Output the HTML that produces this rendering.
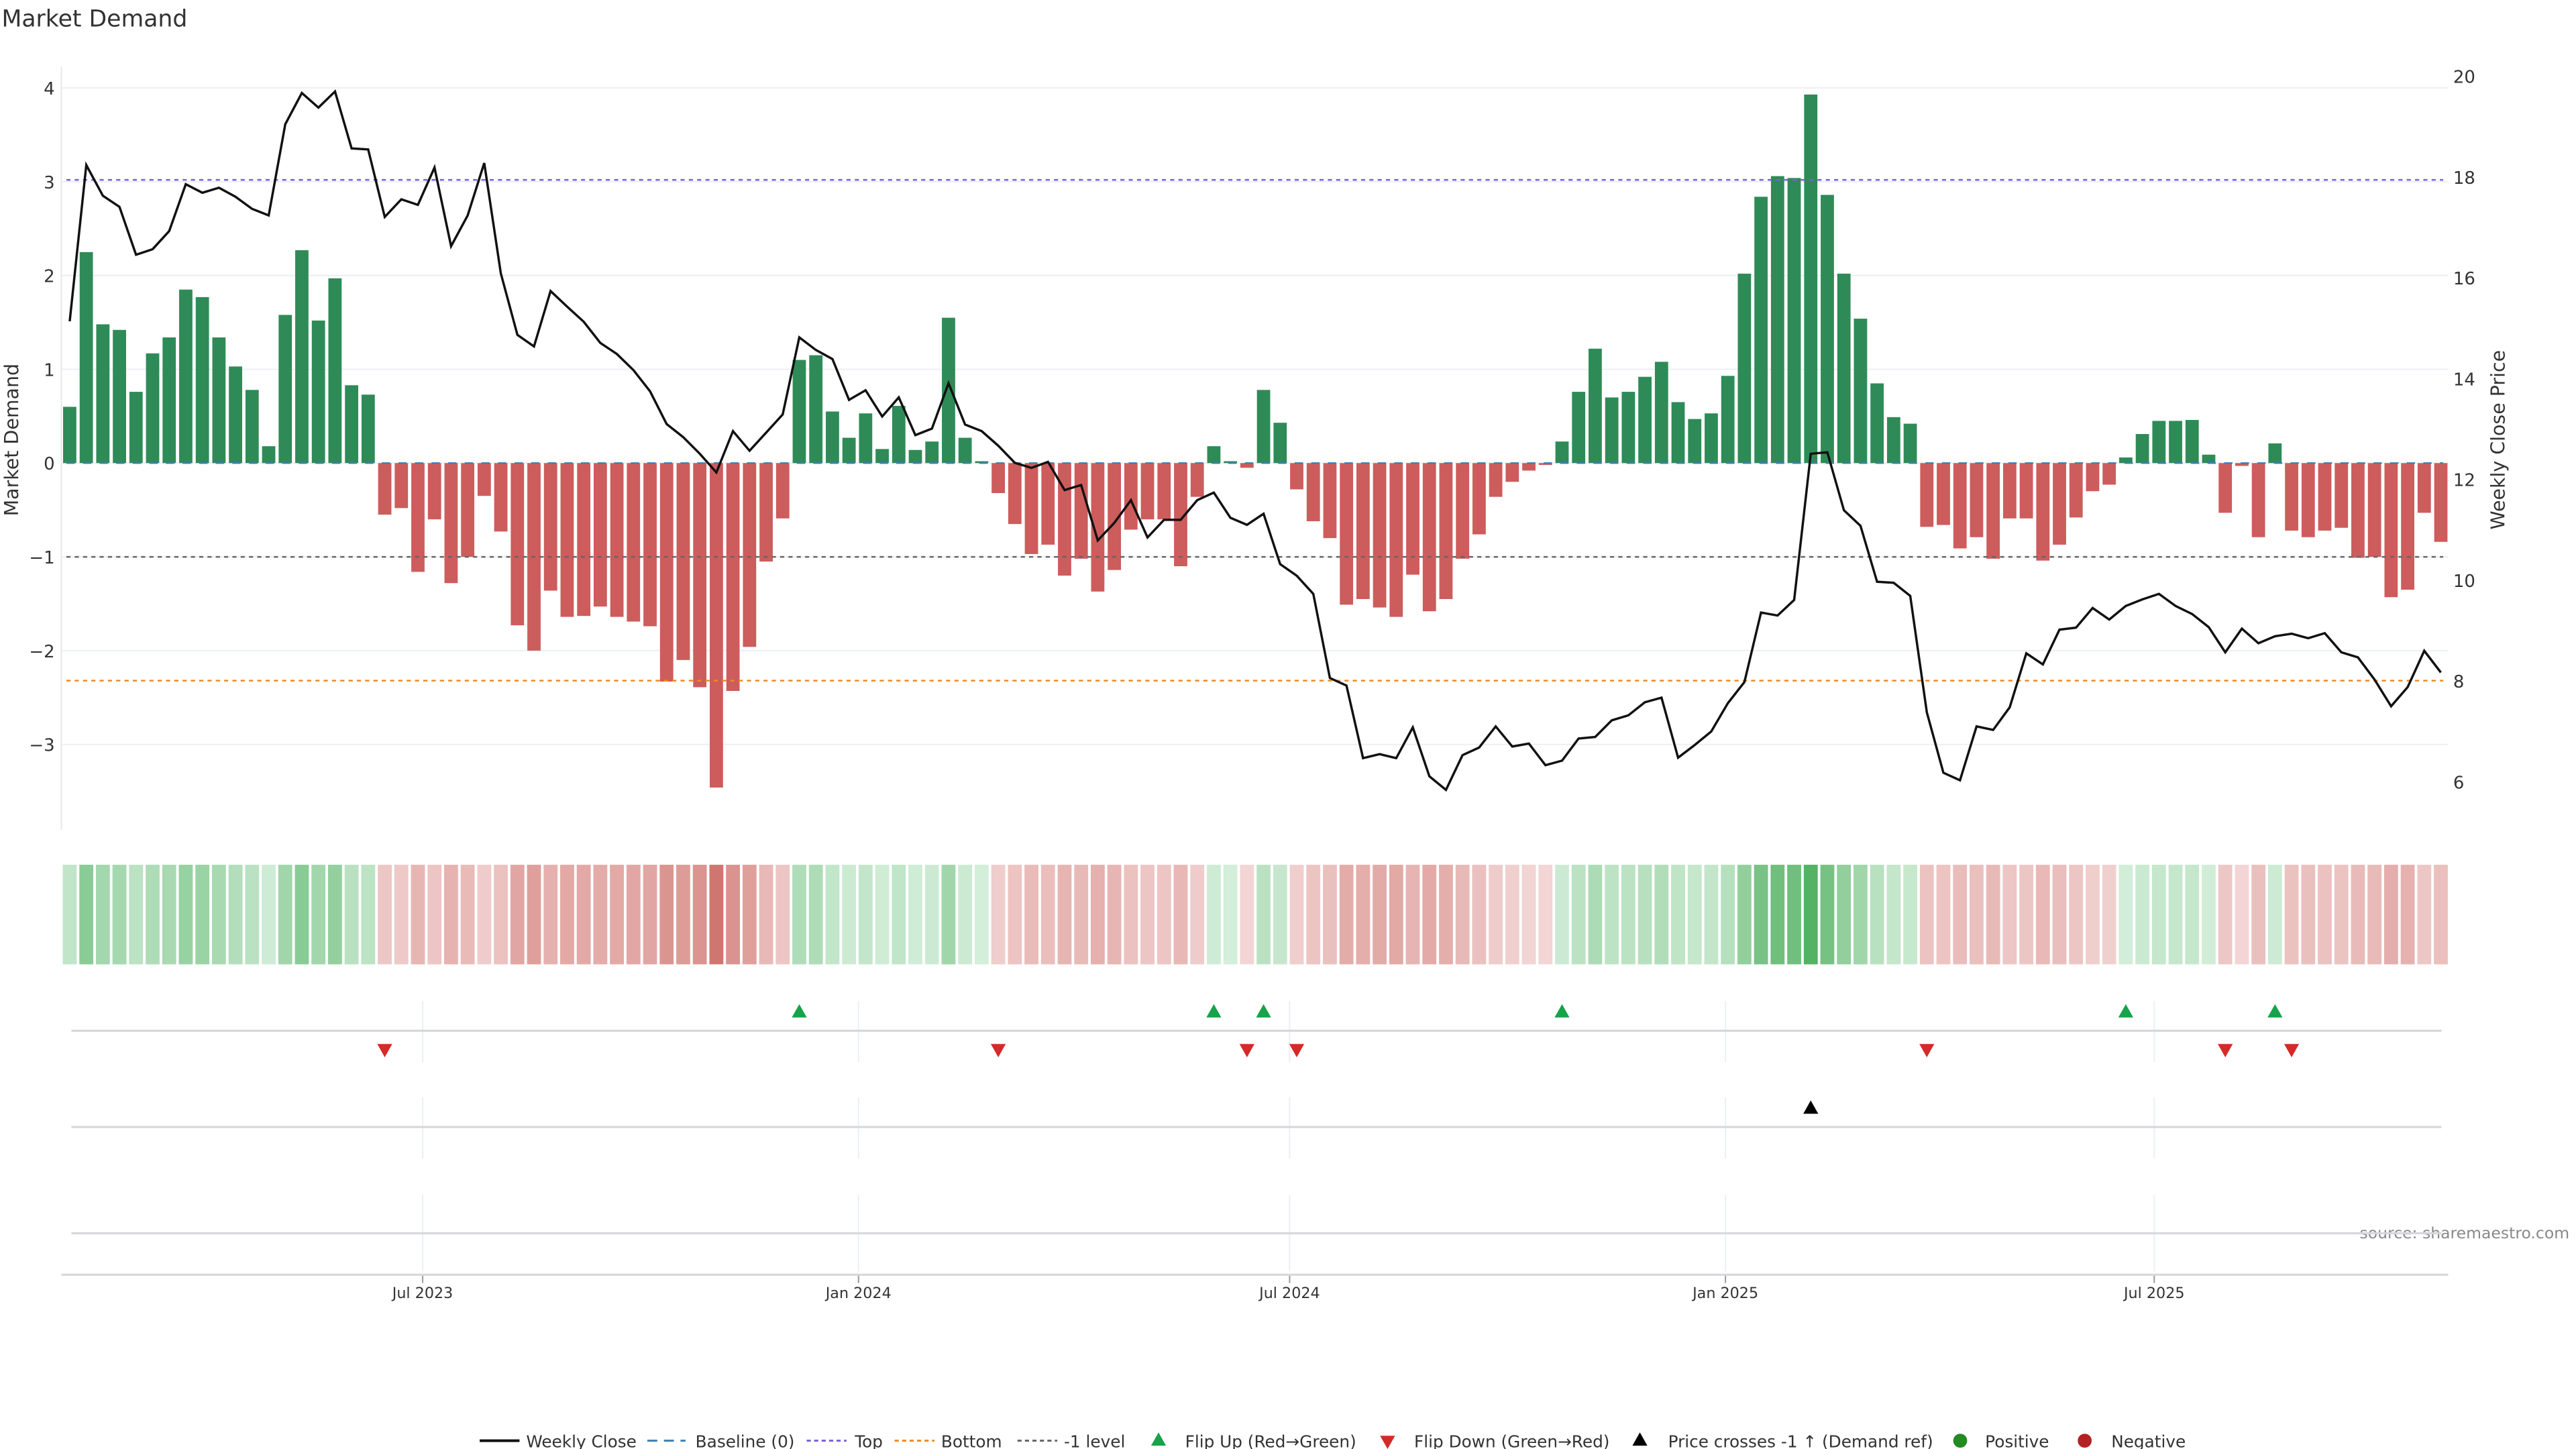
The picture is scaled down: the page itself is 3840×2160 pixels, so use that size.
<!DOCTYPE html>
<html><head><meta charset="utf-8"><style>
html,body{margin:0;padding:0;background:#fff;}
svg{display:block;font-family:"DejaVu Sans","Liberation Sans",sans-serif;}
</style></head><body>
<svg id="chart" width="3840" height="2160" viewBox="0 0 1552 873" preserveAspectRatio="none" xmlns="http://www.w3.org/2000/svg">
<text x="1" y="16" font-size="14" fill="#333">Market Demand</text>
<text transform="translate(11,265) rotate(-90)" text-anchor="middle" font-size="11.5" fill="#333">Market Demand</text>
<text transform="translate(1509,265) rotate(-90)" text-anchor="middle" font-size="11.5" fill="#333">Weekly Close Price</text>
<text x="1548" y="746" text-anchor="end" font-size="9.5" fill="#888">source: sharemaestro.com</text>
<g id="g"></g>
</svg>
<script>
const demand=[0.60,2.25,1.48,1.42,0.76,1.17,1.34,1.85,1.77,1.34,1.03,0.78,0.18,1.58,2.27,1.52,1.97,0.83,0.73,
-0.55,-0.48,-1.16,-0.60,-1.28,-1.00,-0.35,-0.73,-1.73,-2.00,-1.36,-1.64,-1.63,-1.53,-1.64,-1.69,-1.74,-2.33,-2.10,-2.39,-3.46,-2.43,-1.96,-1.05,-0.59,
1.10,1.15,0.55,0.27,0.53,0.15,0.61,0.14,0.23,1.55,0.27,0.02,
-0.32,-0.65,-0.97,-0.87,-1.20,-1.02,-1.37,-1.14,-0.71,-0.60,-0.60,-1.10,-0.36,
0.18,0.02,-0.05,0.78,0.43,
-0.28,-0.62,-0.80,-1.51,-1.45,-1.54,-1.64,-1.19,-1.58,-1.45,-1.02,-0.76,-0.36,-0.20,-0.08,-0.02,
0.23,0.76,1.22,0.70,0.76,0.92,1.08,0.65,0.47,0.53,0.93,2.02,2.84,3.06,3.04,3.93,2.86,2.02,1.54,0.85,0.49,0.42,
-0.68,-0.66,-0.91,-0.79,-1.02,-0.59,-0.59,-1.04,-0.87,-0.58,-0.30,-0.23,
0.06,0.31,0.45,0.45,0.46,0.09,-0.53,-0.03,-0.79,0.21,
-0.72,-0.79,-0.72,-0.69,-1.01,-1.00,-1.43,-1.35,-0.53,-0.84];
const price=[15.14,18.24,17.63,17.41,16.46,16.57,16.93,17.86,17.69,17.79,17.61,17.37,17.24,19.05,19.67,19.38,19.70,18.57,18.55,
17.21,17.56,17.45,18.19,16.63,17.24,18.28,16.09,14.87,14.64,15.74,15.43,15.13,14.71,14.49,14.17,13.75,13.10,12.84,12.51,12.14,12.96,12.57,12.93,13.29,
14.82,14.57,14.39,13.58,13.77,13.25,13.63,12.88,13.01,13.91,13.09,12.96,
12.67,12.33,12.23,12.35,11.79,11.89,10.79,11.14,11.59,10.85,11.20,11.20,11.59,
11.74,11.24,11.10,11.32,10.32,
10.09,9.73,8.06,7.91,6.47,6.55,6.47,7.08,6.11,5.84,6.53,6.68,7.10,6.70,6.76,6.33,
6.42,6.86,6.89,7.22,7.32,7.58,7.67,6.48,6.73,7.00,7.56,7.98,9.36,9.30,9.61,12.51,12.54,11.39,11.08,9.97,9.95,9.69,
7.38,6.18,6.03,7.10,7.03,7.48,8.55,8.33,9.02,9.06,9.45,9.22,
9.49,9.62,9.73,9.49,9.33,9.07,8.57,9.04,8.75,8.89,
8.94,8.85,8.95,8.57,8.47,8.03,7.50,7.88,8.60,8.17];
const leftTicks=[4,3,2,1,0,-1,-2,-3];
const rightTicks=[20,18,16,14,12,10,8,6];
const monthTicks=["2023-07-01","2024-01-01","2024-07-01","2025-01-01","2025-07-01"];
const monthLabels=["Jul 2023","Jan 2024","Jul 2024","Jan 2025","Jul 2025"];
const refLevels=[3.02,-2.32,-1];
const crossEvents=[105];
const startDate="2023-02-02";

const NS="http://www.w3.org/2000/svg";
const g=document.getElementById('g');
function mk(tag,attrs,parent){const e=document.createElementNS(NS,tag);for(const k in attrs)e.setAttribute(k,attrs[k]);(parent||g).appendChild(e);return e;}
const X0=42,STEP=9.99;
const xOf=i=>X0+i*STEP;
const xDate=d=>xOf((new Date(d)-new Date(startDate))/86400000/7);
const yD=v=>279-v*56.5;
const yP=p=>46+(20-p)*30.36;
const L=37,R=1475;

leftTicks.forEach(t=>{
  const l=mk('line',{x1:L,x2:R,y1:yD(t),y2:yD(t),stroke:'#eceff2','stroke-width':0.8});
  
  
  const tx=mk('text',{x:33,y:yD(t)+4,'text-anchor':'end','font-size':10.5,fill:'#333'});
  tx.textContent=t<0?'\u2212'+Math.abs(t):String(t);
  
  
});
rightTicks.forEach(t=>{
  const tx=mk('text',{x:1478,y:yP(t)+4,'font-size':10.5,fill:'#333'});
  tx.textContent=String(t);
  
  
});
const ax=mk('line',{x1:L,x2:L,y1:40,y2:500,stroke:'#e6e8eb','stroke-width':0.8});



demand.forEach((v,i)=>{
  const y=Math.min(yD(v),yD(0)),h=Math.max(Math.abs(yD(v)-yD(0)),0.6);
  const r=mk('rect',{x:xOf(i)-4,y:y,width:8,height:h,fill:v>=0?'#2e8b57':'#cd5c5c'});
  
  
});
const bl=mk('line',{x1:40,x2:1472,y1:yD(0),y2:yD(0),stroke:'#3b7fb6','stroke-width':1,'stroke-dasharray':'5 5'});


const refColors=['#7a5fd8','#ee8a22','#666'];
const refNames=['top-line','bottom-line','minus-one-line'];
refLevels.forEach((lv,k)=>{
  const l=mk('line',{x1:40,x2:1472,y1:yD(lv),y2:yD(lv),stroke:refColors[k],'stroke-width':1,'stroke-dasharray':'2.5 2.5'});
  
  
});
const pl=mk('polyline',{points:price.map((p,i)=>xOf(i)+','+yP(p)).join(' '),fill:'none',stroke:'#111','stroke-width':1.4,'stroke-linejoin':'miter'});



function mix(a,b,t){return 'rgb('+a.map((c,k)=>Math.round(c+(b[k]-c)*t)).join(',')+')';}
demand.forEach((v,i)=>{
  const t=Math.min(Math.abs(v)/3.9,1);
  const c=v>=0?mix([212,238,218],[84,178,100],t):mix([242,214,213],[204,106,100],t);
  const r=mk('rect',{x:xOf(i)-4.2,y:521,width:8.4,height:60,fill:c});
  
  
});

monthTicks.forEach((d,k)=>{
  const x=xDate(d);
  [[603,640],[661,698],[720,766]].forEach(([a,b])=>{
    const l=mk('line',{x1:x,x2:x,y1:a,y2:b,stroke:'#eceff2','stroke-width':0.8});
    
    
  });
  const tk=mk('line',{x1:x,x2:x,y1:768,y2:773,stroke:'#999','stroke-width':0.8});
  
  
  const tx=mk('text',{x:x,y:782,'text-anchor':'middle','font-size':9,fill:'#333'});
  tx.textContent=monthLabels[k];
  
  
});
[621,679,743].forEach(y=>{
  const l=mk('line',{x1:43,x2:1471,y1:y,y2:y,stroke:'#d4d6d9','stroke-width':1.2});
  
  
});
const xa=mk('line',{x1:L,x2:R,y1:768,y2:768,stroke:'#d4d6d9','stroke-width':1.2});



function tri(x,y,up,color){
  const p=up?`${x-4.5},${y+4} ${x+4.5},${y+4} ${x},${y-4}`:`${x-4.5},${y-4} ${x+4.5},${y-4} ${x},${y+4}`;
  return mk('polygon',{points:p,fill:color});
}
for(let i=1;i<demand.length;i++){
  const a=demand[i-1]>=0,b=demand[i]>=0;
  if(!a&&b){const t=tri(xOf(i),609,true,'#16a34a');}
  if(a&&!b){const t=tri(xOf(i),633,false,'#d42a2a');}
}
crossEvents.forEach(i=>{const t=tri(xOf(i),667,true,'#000');});

const lg=mk('g',{});


function ltext(x,s){const t=mk('text',{x:x,y:872,'font-size':10,fill:'#333'},lg);t.textContent=s;}
function lline(x1,x2,c,da,w){const l=mk('line',{x1:x1,x2:x2,y1:868,y2:868,stroke:c,'stroke-width':w||1.2},lg);if(da)l.setAttribute('stroke-dasharray',da);}
lline(289,313,'#111',null,1.6);ltext(317,'Weekly Close');
lline(390,413,'#3b7fb6','6 4');ltext(419,'Baseline (0)');
lline(486,510,'#7a5fd8','2.5 2');ltext(515,'Top');
lline(539,563,'#ee8a22','2.5 2');ltext(567,'Bottom');
lline(613,637,'#666','2.5 2');ltext(641,'-1 level');
let t1=tri(698,867,true,'#16a34a');ltext(714,'Flip Up (Red\u2192Green)');
let t2=tri(836,869,false,'#d42a2a');ltext(852,'Flip Down (Green\u2192Red)');
let t3=tri(988,867,true,'#000');ltext(1005,'Price crosses -1 \u2191 (Demand ref)');
let c1=mk('circle',{cx:1181,cy:868,r:4.2,fill:'#228b22'},lg);ltext(1196,'Positive');
let c2=mk('circle',{cx:1256,cy:868,r:4.2,fill:'#b22222'},lg);ltext(1272,'Negative');
</script>
</body></html>
